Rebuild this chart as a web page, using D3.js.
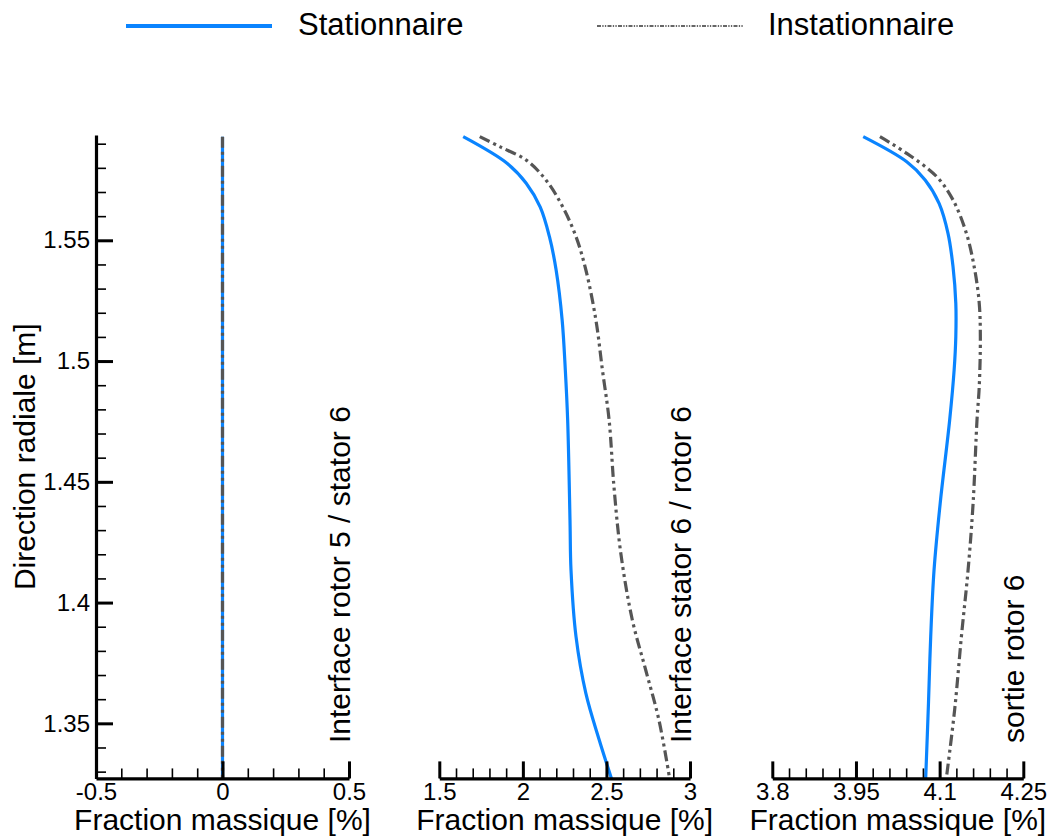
<!DOCTYPE html>
<html>
<head>
<meta charset="utf-8">
<script src="https://cdn.jsdelivr.net/npm/d3@7"></script>
<style>
  html, body { margin: 0; padding: 0; background: #fff; }
  svg { display: block; font-family: "Liberation Sans", Arial, sans-serif; }
</style>
</head>
<body>
<svg id="chart" width="1050" height="837"></svg>
<script>
// ---------- data ----------
const seriesNames = ["Stationnaire", "Instationnaire"];
const panelLabels = ["Interface rotor 5 / stator 6", "Interface stator 6 / rotor 6", "sortie rotor 6"];
const xTitle = "Fraction massique [%]";
const yTitle = "Direction radiale [m]";

const yMajorTicks = [1.35, 1.4, 1.45, 1.5, 1.55];
const yTickLabels = ["1.35", "1.4", "1.45", "1.5", "1.55"];

const p1MajorTicks = [-0.5, 0, 0.5];
const p1TickLabels = ["-0.5", "0", "0.5"];
const p2MajorTicks = [1.5, 2, 2.5, 3];
const p2TickLabels = ["1.5", "2", "2.5", "3"];
const p3MajorTicks = [3.8, 3.95, 4.1, 4.25];
const p3TickLabels = ["3.8", "3.95", "4.1", "4.25"];

// Panel 1 : interface rotor 5 / stator 6
const p1Radius = [1.5929, 1.3272];
const p1Stat   = [0, 0];
const p1Inst   = [0, 0];

// Panel 2 : interface stator 6 / rotor 6
const p2StatRadius = [1.5929, 1.5819, 1.5736, 1.5637, 1.5515, 1.5377, 1.5170, 1.4963, 1.4756, 1.4342, 1.4135, 1.3859, 1.3624, 1.3431, 1.3272];
const p2Stat       = [1.643, 1.905, 2.020, 2.104, 2.159, 2.199, 2.235, 2.254, 2.268, 2.282, 2.288, 2.318, 2.377, 2.457, 2.530];
const p2InstRadius = [1.5929, 1.5888, 1.5832, 1.5749, 1.5639, 1.5515, 1.5377, 1.5170, 1.4963, 1.4756, 1.4480, 1.4204, 1.3928, 1.3721, 1.3514, 1.3272];
const p2Inst       = [1.742, 1.861, 2.020, 2.139, 2.238, 2.318, 2.377, 2.437, 2.476, 2.516, 2.545, 2.586, 2.655, 2.735, 2.814, 2.878];

// Panel 3 : sortie rotor 6
const p3StatRadius = [1.5929, 1.5825, 1.5750, 1.5653, 1.5529, 1.5391, 1.5239, 1.5101, 1.4963, 1.4756, 1.4411, 1.4135, 1.3859, 1.3583, 1.3272];
const p3Stat       = [3.963, 4.041, 4.074, 4.099, 4.115, 4.124, 4.129, 4.129, 4.126, 4.118, 4.101, 4.090, 4.084, 4.080, 4.075];
const p3InstRadius = [1.5929, 1.5860, 1.5763, 1.5667, 1.5529, 1.5377, 1.5239, 1.5101, 1.4894, 1.4756, 1.4411, 1.4135, 1.3859, 1.3558, 1.3272];
const p3Inst       = [3.993, 4.041, 4.095, 4.124, 4.148, 4.163, 4.171, 4.173, 4.171, 4.167, 4.160, 4.151, 4.139, 4.127, 4.112];

// ---------- layout ----------
const svg = d3.select("#chart");
const BLUE = "#0a84ff";
const GRAY = "#555555";
const yDomain = [1.3272, 1.5936];
const yTop = 135, yBot = 778.4;
const y = d3.scaleLinear().domain(yDomain).range([yBot, yTop]);

const panels = [
  { domain: [-0.5, 0.5], range: [96, 349], majors: p1MajorTicks, labels: p1TickLabels, minorStep: 0.1,
    stat: { r: p1Radius, v: p1Stat }, inst: { r: p1Radius, v: p1Inst }, label: panelLabels[0] },
  { domain: [1.5, 3], range: [439.3, 690], majors: p2MajorTicks, labels: p2TickLabels, minorStep: 0.1,
    stat: { r: p2StatRadius, v: p2Stat }, inst: { r: p2InstRadius, v: p2Inst }, label: panelLabels[1] },
  { domain: [3.8, 4.25], range: [772.3, 1023.3], majors: p3MajorTicks, labels: p3TickLabels, minorStep: 0.03,
    stat: { r: p3StatRadius, v: p3Stat }, inst: { r: p3InstRadius, v: p3Inst }, label: panelLabels[2] }
];

function minorTicks(d0, d1, step) {
  const out = [];
  const n = Math.round((d1 - d0) / step);
  for (let i = 0; i <= n; i++) out.push(+(d0 + i * step).toFixed(4));
  return out;
}

panels.forEach((p, i) => {
  const x = d3.scaleLinear().domain(p.domain).range(p.range);
  const line = d3.line()
    .x(d => x(d[0]))
    .y(d => y(d[1]))
    .curve(d3.curveCatmullRom.alpha(0.5));

  const statPts = p.stat.v.map((v, k) => [v, p.stat.r[k]]);
  const instPts = p.inst.v.map((v, k) => [v, p.inst.r[k]]);

  svg.append("path").attr("d", line(statPts))
    .attr("fill", "none").attr("stroke", BLUE).attr("stroke-width", 3.2);
  svg.append("path").attr("d", line(instPts))
    .attr("fill", "none").attr("stroke", GRAY).attr("stroke-width", 3.2)
    .attr("stroke-dasharray", "11,4,3,4,3,4");

  // minor ticks
  const minorAxis = d3.axisBottom(x)
    .tickValues(minorTicks(p.domain[0], p.domain[1], p.minorStep))
    .tickSize(-10).tickSizeOuter(0).tickFormat("");
  const gMin = svg.append("g").attr("transform", `translate(0,${yBot})`).call(minorAxis);
  gMin.select(".domain").remove();
  gMin.selectAll(".tick line").attr("stroke", "#000").attr("stroke-width", 1.6);

  // major ticks + labels
  const majorAxis = d3.axisBottom(x)
    .tickValues(p.majors)
    .tickSize(-17).tickSizeOuter(0).tickPadding(5)
    .tickFormat((d, k) => p.labels[k]);
  const gMaj = svg.append("g").attr("transform", `translate(0,${yBot})`).call(majorAxis);
  gMaj.select(".domain").attr("stroke", "#000").attr("stroke-width", 3.2);
  gMaj.selectAll(".tick line").attr("stroke", "#000").attr("stroke-width", 3);
  gMaj.selectAll(".tick text")
    .attr("font-size", 24).attr("fill", "#000")
    .attr("font-family", "Liberation Sans, Arial, sans-serif");

  // x title
  svg.append("text")
    .attr("x", (p.range[0] + p.range[1]) / 2).attr("y", 830)
    .attr("text-anchor", "middle").attr("font-size", 30).attr("fill", "#000")
    .text(xTitle);

  // rotated panel label
  svg.append("text")
    .attr("transform", `translate(${p.range[1] + 1},743) rotate(-90)`)
    .attr("text-anchor", "start").attr("font-size", 30).attr("fill", "#000")
    .text(p.label);
});

// ---------- y axis ----------
const yMinor = d3.axisLeft(y)
  .tickValues(minorTicks(1.33, 1.59, 0.01))
  .tickSize(-10).tickSizeOuter(0).tickFormat("");
const gyMin = svg.append("g").attr("transform", "translate(96,0)").call(yMinor);
gyMin.select(".domain").remove();
gyMin.selectAll(".tick line").attr("stroke", "#000").attr("stroke-width", 1.6);

const yMajor = d3.axisLeft(y)
  .tickValues(yMajorTicks)
  .tickSize(-17).tickSizeOuter(0).tickPadding(6)
  .tickFormat((d, k) => yTickLabels[k]);
const gyMaj = svg.append("g").attr("transform", "translate(96,0)").call(yMajor);
gyMaj.select(".domain").attr("stroke", "#000").attr("stroke-width", 3.2);
gyMaj.selectAll(".tick line").attr("stroke", "#000").attr("stroke-width", 3);
gyMaj.selectAll(".tick text")
  .attr("font-size", 24).attr("fill", "#000")
  .attr("font-family", "Liberation Sans, Arial, sans-serif");

svg.append("text")
  .attr("transform", `translate(35,${(yTop + yBot) / 2}) rotate(-90)`)
  .attr("text-anchor", "middle").attr("font-size", 30).attr("fill", "#000")
  .text(yTitle);

// ---------- legend ----------
const legend = svg.append("g");
legend.append("line").attr("x1", 126).attr("x2", 272).attr("y1", 26).attr("y2", 26)
  .attr("stroke", BLUE).attr("stroke-width", 4);
legend.append("text").attr("x", 298).attr("y", 35).attr("font-size", 31).attr("fill", "#000")
  .text(seriesNames[0]);
legend.append("line").attr("x1", 597).attr("x2", 743).attr("y1", 26).attr("y2", 26)
  .attr("stroke", "#666").attr("stroke-width", 2.2)
  .attr("stroke-dasharray", "4,1.3,1.3,1.3,1.3,1.3");
legend.append("text").attr("x", 768).attr("y", 35).attr("font-size", 31).attr("fill", "#000")
  .text(seriesNames[1]);
</script>
</body>
</html>
